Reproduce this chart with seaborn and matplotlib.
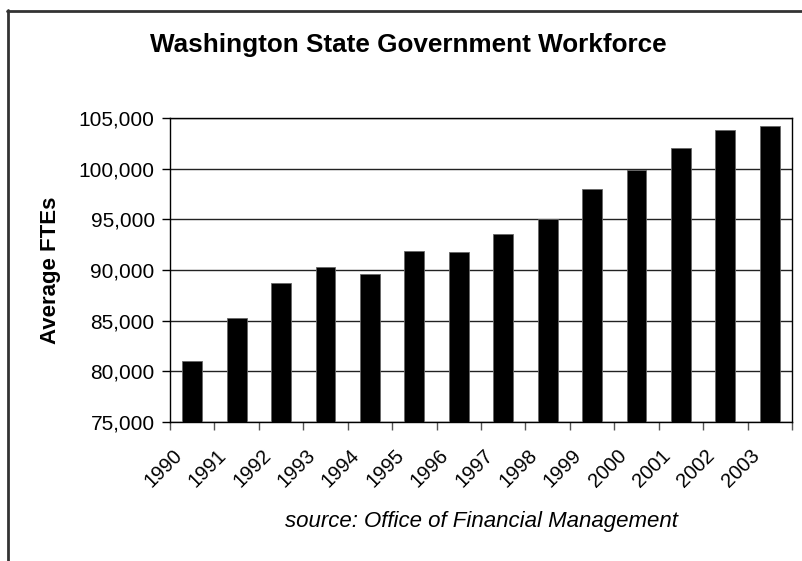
import matplotlib
matplotlib.use("Agg")
import matplotlib.pyplot as plt
import matplotlib.ticker as mticker
import matplotlib.transforms as mtransforms
from matplotlib.lines import Line2D
import numpy as np
import pandas as pd
import seaborn as sns

# Average FTEs by year
years = ["1990", "1991", "1992", "1993", "1994", "1995", "1996",
         "1997", "1998", "1999", "2000", "2001", "2002", "2003"]
ftes = [81000, 85300, 88700, 90250, 89650, 91850, 91800,
        93600, 95000, 97950, 99900, 102050, 103850, 104250]
y_ticks = [75000, 80000, 85000, 90000, 95000, 100000, 105000]

title = "Washington State Government Workforce"
y_label = "Average FTEs"
source = "source: Office of Financial Management"

df = pd.DataFrame({"year": years, "ftes": ftes})

sns.set_theme(style="white")
plt.rcParams["font.family"] = ["Liberation Sans", "DejaVu Sans"]
plt.rcParams.update({"text.color": "black", "axes.labelcolor": "black",
                     "xtick.color": "black", "ytick.color": "black"})

fig = plt.figure(figsize=(8.03, 5.61), dpi=100)
ax = fig.add_axes([170 / 803, 1 - 422 / 561, 622 / 803, 304 / 561])

sns.barplot(data=df, x="year", y="ftes", color="black", saturation=1,
            width=0.45, edgecolor="#666666", linewidth=0.6, ax=ax, zorder=3)

ax.set_ylim(y_ticks[0], y_ticks[-1])
ax.set_xlim(-0.5, len(years) - 0.5)
ax.set_yticks(y_ticks)
ax.yaxis.set_major_formatter(mticker.StrMethodFormatter("{x:,.0f}"))
ax.yaxis.grid(True, color="#222222", linewidth=1.0, zorder=0)
ax.set_axisbelow(True)

# category boundary tick marks on the x axis
ax.set_xticks(np.arange(-0.5, len(years) + 0.5, 1.0), minor=True)
ax.tick_params(axis="x", which="major", length=0, pad=17, labelsize=14.5,
               labelcolor="black")
ax.tick_params(axis="x", which="minor", length=6, width=1, color="#555555",
               direction="out", bottom=True)
ax.tick_params(axis="y", which="major", length=6, width=1, color="black",
               direction="out", left=True, labelsize=15, pad=5,
               labelcolor="black")
shift = mtransforms.ScaledTranslation(-20 / 100, 0, fig.dpi_scale_trans)
for lab in ax.get_xticklabels():
    lab.set_rotation(45)
    lab.set_ha("right")
    lab.set_va("top")
    lab.set_rotation_mode("anchor")
    lab.set_transform(lab.get_transform() + shift)

for side in ["left", "right", "top", "bottom"]:
    ax.spines[side].set_visible(True)
    ax.spines[side].set_color("black")
    ax.spines[side].set_linewidth(1.0)

ax.set_xlabel("")
ax.set_ylabel(y_label, fontsize=16, fontweight="bold", color="black")
ax.yaxis.set_label_coords(-0.176, 0.5)

fig.text(408 / 803, 1 - 45 / 561, title, ha="center", va="center",
         fontsize=18.8, fontweight="bold", color="black")
fig.text(481 / 803, 1 - 521 / 561, source, ha="center", va="center",
         fontsize=16, style="italic", color="black")

# chart frame (top and left edges)
frame_kw = dict(color="#333333", linewidth=2, transform=None)
fig.add_artist(Line2D([7, 803], [561 - 10.5, 561 - 10.5], **frame_kw))
fig.add_artist(Line2D([7.5, 7.5], [0, 561 - 10], **frame_kw))

fig.savefig("out.png", dpi=100)
